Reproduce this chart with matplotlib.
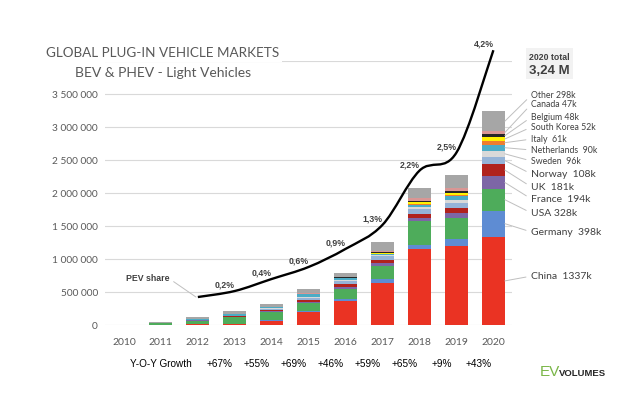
import numpy as np
import matplotlib.pyplot as plt
from matplotlib.path import Path
from matplotlib.patches import PathPatch, Rectangle
from matplotlib.ticker import FuncFormatter

# sales in thousands, bottom of stack first
years = [2010, 2011, 2012, 2013, 2014, 2015, 2016, 2017, 2018, 2019, 2020]
china = [1, 5, 10, 15, 65, 190, 368, 643, 1150, 1197, 1337]
germany = [0.5, 2, 3, 7, 13, 24, 25, 55, 70, 106, 398]
usa = [1, 18, 53, 97, 119, 115, 160, 200, 361, 320, 328]
france = [0.2, 2.6, 6, 9, 15, 22, 29, 37, 46, 69, 194]
uk = [0.2, 1.2, 2, 4, 15, 28, 37, 47, 60, 75, 181]
norway = [0.4, 2, 4, 8, 20, 34, 50, 62, 73, 80, 108]
sweden = [0, 0.2, 1, 1, 4.7, 8.5, 14, 20, 30, 40, 96]
netherlands = [0.1, 1, 5, 23, 15, 43, 24, 11, 28, 67, 90]
italy = [0.1, 0.3, 0.5, 0.9, 1.5, 2, 1.4, 5, 10, 17, 61]
s_korea = [0, 0.3, 0.5, 0.8, 1, 3, 5, 14, 32, 35, 52]
belgium = [0, 0.2, 0.5, 0.9, 2, 4, 8, 14, 14, 18, 48]
canada = [0.2, 0.5, 1.5, 1, 5, 7, 12, 18, 45, 56, 47]
other = [3.5, 17, 37, 40, 43, 60, 60, 134, 161, 186, 298]

countries = ["China", "Germany", "USA", "France", "UK", "Norway", "Sweden",
             "Netherlands", "Italy", "South Korea", "Belgium", "Canada", "Other"]
series = [china, germany, usa, france, uk, norway, sweden, netherlands,
          italy, s_korea, belgium, canada, other]
labels_2020 = ["China  1337k", "Germany  398k", "USA 328k", "France  194k",
               "UK  181k", "Norway  108k", "Sweden  96k", "Netherlands  90k",
               "Italy  61k", "South Korea 52k", "Belgium 48k", "Canada 47k",
               "Other 298k"]

share_years = [2012, 2013, 2014, 2015, 2016, 2017, 2018, 2019, 2020]
pev_share = [0.1, 0.2, 0.4, 0.6, 0.9, 1.3, 2.2, 2.5, 4.2]
share_labels = ["", "0,2%", "0,4%", "0,6%", "0,9%", "1,3%", "2,2%", "2,5%", "4,2%"]

growth_years = [2013, 2014, 2015, 2016, 2017, 2018, 2019, 2020]
growth_labels = ["+67%", "+55%", "+69%", "+46%", "+59%", "+65%", "+9%", "+43%"]

colors = ["#EA3323", "#5E8CD3", "#4EAC5B", "#7D66A6", "#B0221D", "#95B3D7",
          "#D9D9D9", "#4BACC6", "#EE7D2F", "#FFF200", "#262626", "#D99694",
          "#A6A6A6"]

# label positions at the right of the 2020 bar (millions)
label_y = [0.742, 1.409, 1.697, 1.909, 2.091, 2.288, 2.485, 2.652,
           2.818, 3.0, 3.152, 3.348, 3.485]
label_size = [7.5] * 6 + [6.3] * 7

plt.rcParams['font.family'] = ['Lato', 'DejaVu Sans']
BOLD = "Liberation Sans"

fig = plt.figure(figsize=(6.4, 4.03), dpi=100)
ax = fig.add_axes([0.1648, 0.1935, 0.635, 0.655])

x = np.arange(len(years))
bottom = np.zeros(len(years))
mids = []
for vals, col in zip(series, colors):
    v = np.array(vals) * 1000
    ax.bar(x, v, 0.62, bottom=bottom, color=col, zorder=2)
    mids.append(bottom[-1] + v[-1] / 2)
    bottom += v

ax.set_xlim(-0.5, 10.5)
ax.set_ylim(0, 4e6)
ax.set_yticks(np.arange(0, 4.01e6, 5e5))
ax.yaxis.set_major_formatter(FuncFormatter(
    lambda v, p: "" if v > 3.6e6 else f"{int(v):,}".replace(",", " ")))
ax.set_xticks(x, [str(y) for y in years])
ax.grid(axis="y", color="#D9D9D9", lw=0.8, zorder=0)
for s in ax.spines.values():
    s.set_visible(False)
ax.tick_params(axis="y", length=0, pad=5.5, labelsize=7.3, labelcolor="#595959")
ax.tick_params(axis="x", length=0, pad=9, labelsize=7.5, labelcolor="#595959")

# right-hand labels with leader lines
for i, name in enumerate(labels_2020):
    ax.annotate(name, xy=(10 + 0.31, mids[i]), xytext=(11.03, label_y[i] * 1e6),
                ha="left", va="center", fontsize=label_size[i], color="#404040",
                annotation_clip=False,
                arrowprops=dict(arrowstyle="-", color="#BFBFBF", lw=0.7,
                                shrinkA=2, shrinkB=0, relpos=(0, 0.5)))

# PEV share line on a hidden second axis, smoothed like the original
ax2 = ax.twinx()
ax2.set_ylim(-0.365, 4.02)
ax2.axis("off")
sx = np.array([years.index(y) for y in share_years], dtype=float)
sy = np.array(pev_share)
pts = np.column_stack([sx, sy])
ext = np.vstack([pts[0], pts, pts[-1]])
verts = [tuple(pts[0])]
codes = [Path.MOVETO]
for i in range(len(pts) - 1):
    p0, p1, p2, p3 = ext[i], ext[i + 1], ext[i + 2], ext[i + 3]
    verts += [tuple(p1 + (p2 - p0) / 6), tuple(p2 - (p3 - p1) / 6), tuple(p2)]
    codes += [Path.CURVE4] * 3
ax2.add_patch(PathPatch(Path(verts, codes), fill=False, color="black",
                        lw=1.7, clip_on=False, zorder=5))
for xi, yi, lab in zip(sx, sy, share_labels):
    if lab:
        ax2.annotate(lab, (xi, yi), xytext=(-10, 6), textcoords="offset pixels",
                     ha="center", va="center", fontsize=6.3, fontweight="bold",
                     family=BOLD, color="#404040", annotation_clip=False)
ax2.annotate("PEV share", xy=(sx[0] - 0.05, sy[0]), xytext=(0.65, 0.4),
             ha="center", va="center", fontsize=6.3, fontweight="bold",
             family=BOLD, color="#404040", annotation_clip=False,
             arrowprops=dict(arrowstyle="-", color="#BFBFBF", lw=0.7,
                             shrinkA=1, shrinkB=0, relpos=(1, 0.5)))

# Y-O-Y growth row
tr = ax.get_xaxis_transform()
ax.text(1.0, -0.148, "Y-O-Y Growth", transform=tr, ha="center", va="center",
        fontsize=7.2, family="Liberation Sans")
for y, g in zip(growth_years, growth_labels):
    ax.text(years.index(y) - 0.4, -0.148, g, transform=tr, ha="center",
            va="center", fontsize=7.2, family="Liberation Sans")

# titles
fig.text(163 / 640, 1 - 53 / 403, "GLOBAL PLUG-IN VEHICLE MARKETS", ha="center",
         va="center", fontsize=9.7, color="#595959",
         bbox=dict(facecolor="white", edgecolor="none", pad=2))
fig.text(163 / 640, 1 - 73 / 403, "BEV & PHEV - Light Vehicles", ha="center",
         va="center", fontsize=10, color="#595959")

# 2020 total box
fig.patches.append(Rectangle((526 / 640, 1 - 79 / 403), 47 / 640, 31 / 403,
                             transform=fig.transFigure, facecolor="#F2F2F2",
                             edgecolor="none"))
fig.text(549.5 / 640, 1 - 57 / 403, "2020 total", ha="center", va="center",
         fontsize=6.3, fontweight="bold", family=BOLD, color="#404040")
fig.text(549.5 / 640, 1 - 71 / 403, "3,24 M", ha="center", va="center",
         fontsize=9.5, fontweight="bold", family=BOLD, color="#404040")

# logo
fig.text(540 / 640, 1 - 372 / 403, "EV", ha="left", va="center", fontsize=11,
         color="#7AB648", family="Liberation Sans")
fig.text(559 / 640, 1 - 373 / 403, "VOLUMES", ha="left", va="center",
         fontsize=6.8, fontweight="bold", color="#262626", family="Liberation Sans")

fig.savefig("out.png", dpi=100)
